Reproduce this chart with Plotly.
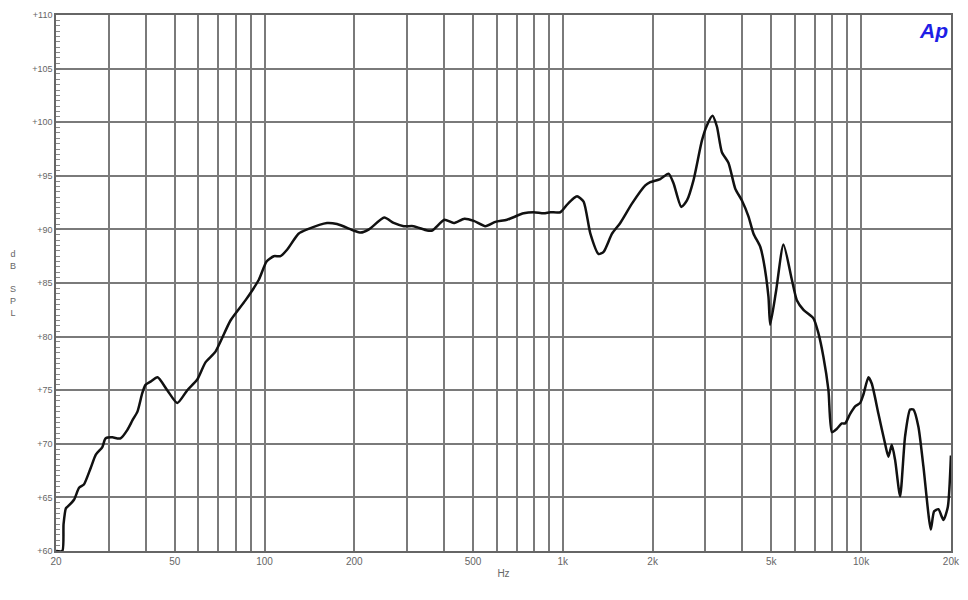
import plotly.graph_objects as go

freq_hz = [20, 21.0, 21.2, 21.6, 22.0, 23.0, 23.9, 24.8, 26.1, 27.2,
           28.6, 29.3, 30.9, 32.1, 32.9, 34.7, 36.1, 37.5, 38.9, 39.9,
           41.5, 43.8, 47.2, 51.0, 55.1, 59.5, 63.4, 68.5, 76.9, 86.4,
           95.7, 101.6, 107.4, 113.1, 119, 130, 139, 162, 175, 199,
           210, 224, 252, 271, 293, 316, 351, 365, 401, 431,
           468, 503, 550, 594, 650, 739, 799, 863, 908, 981,
           1033, 1087, 1116, 1174, 1237, 1318, 1370, 1462, 1558, 1705,
           1890, 1964, 2121, 2262, 2350, 2495, 2607, 2743, 2927, 3041,
           3175, 3285, 3414, 3593, 3785, 3984, 4193, 4358, 4587, 4706,
           4891, 4956, 5190, 5491, 5859, 6088, 6408, 6921, 7194, 7476,
           7771, 7979, 8292, 8615, 8838, 9187, 9548, 9923, 10178, 10580,
           10862, 11429, 12033, 12344, 12670, 12998, 13510, 14040, 14596, 14971,
           15560, 16172, 17124, 17566, 18155, 18871, 19525, 20000]

spl_db = [60.0, 60.0, 62.5, 64.0, 64.2, 64.8, 65.9, 66.2, 67.7, 69.0,
          69.7, 70.5, 70.6, 70.5, 70.5, 71.3, 72.2, 73.0, 74.7, 75.5,
          75.8, 76.2, 75.0, 73.8, 75.0, 76.0, 77.6, 78.6, 81.5, 83.4,
          85.3, 87.0, 87.5, 87.5, 88.1, 89.6, 90.0, 90.6, 90.5, 89.9,
          89.7, 90.0, 91.1, 90.6, 90.3, 90.3, 89.9, 89.9, 90.9, 90.6,
          91.0, 90.8, 90.3, 90.7, 90.9, 91.5, 91.6, 91.5, 91.6, 91.6,
          92.3, 92.9, 93.1, 92.6, 89.6, 87.7, 87.9, 89.6, 90.6, 92.4,
          94.1, 94.4, 94.7, 95.2, 94.3, 92.1, 92.7, 94.6, 98.3, 99.7,
          100.6, 99.6, 97.2, 96.2, 93.8, 92.7, 91.2, 89.6, 88.4, 87.1,
          83.7, 81.1, 84.3, 88.6, 85.3, 83.4, 82.5, 81.7, 80.3, 78.1,
          75.0, 71.1, 71.4, 71.9, 71.9, 72.8, 73.5, 73.8, 74.6, 76.2,
          75.6, 72.8, 70.0, 68.8, 69.9, 68.5, 65.1, 70.7, 73.2, 73.2,
          71.6, 67.9, 62.0, 63.7, 63.9, 62.9, 64.1, 68.9]

x_labels = {20: "20", 50: "50", 100: "100", 200: "200", 500: "500",
            1000: "1k", 2000: "2k", 5000: "5k", 10000: "10k", 20000: "20k"}
x_grid = [m * d for d in (10, 100, 1000, 10000) for m in range(1, 10)
          if 20 <= m * d <= 20000]
y_ticks = [60, 65, 70, 75, 80, 85, 90, 95, 100, 105, 110]
y_labels = ["+%d" % v for v in y_ticks]

fig = go.Figure()
fig.add_trace(go.Scatter(
    x=freq_hz, y=spl_db, mode="lines",
    line=dict(color="#111111", width=2.5, shape="spline", smoothing=0.6),
    hoverinfo="skip", showlegend=False))

grid_col = "#7a7a7a"
fig.update_layout(
    width=952, height=584,
    margin=dict(l=48, r=9, t=7, b=41),
    paper_bgcolor="white", plot_bgcolor="white",
    font=dict(family="Liberation Sans, Arial, sans-serif", size=9, color="#555555"),
    xaxis=dict(
        type="log", range=[1.30100, 4.3013], automargin=False,
        tickmode="array", tickvals=x_grid,
        ticktext=[x_labels.get(v, "") for v in x_grid],
        showgrid=True, gridcolor=grid_col, gridwidth=1.5,
        showline=True, linecolor="#666666", linewidth=1.5, mirror=True,
        ticks="", tickfont=dict(size=10, color="#666666"),
        title=dict(text="Hz", font=dict(size=10, color="#666666"), standoff=4),
        zeroline=False, fixedrange=True),
    yaxis=dict(
        range=[60, 110], automargin=False,
        tickmode="array", tickvals=y_ticks, ticktext=y_labels,
        showgrid=True, gridcolor=grid_col, gridwidth=1.5,
        showline=True, linecolor="#666666", linewidth=1.5, mirror=True,
        ticks="inside", ticklen=5, tickcolor="#777777",
        minor=dict(dtick=0.5, ticks="inside", ticklen=4, tickcolor="#888888",
                   showgrid=False),
        tickfont=dict(size=9, color="#666666"),
        zeroline=False, fixedrange=True),
)

fig.add_annotation(
    text="d<br>B<br><br>S<br>P<br>L", xref="paper", yref="paper",
    x=-0.0536, y=0.5, xanchor="left", yanchor="middle",
    showarrow=False, font=dict(size=9, color="#666666"), align="center")

fig.add_annotation(
    text="<b><i>Ap</i></b>", xref="paper", yref="paper",
    x=0.999, y=0.997, xanchor="right", yanchor="top",
    showarrow=False, font=dict(size=21, color="#1e1ee6",
                               family="Liberation Sans, Arial, sans-serif"))

fig.write_html("out.html")
